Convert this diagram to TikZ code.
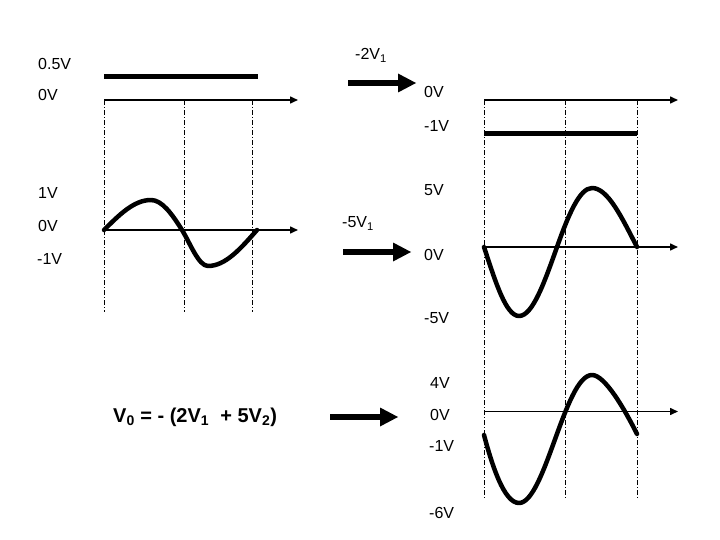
\documentclass[tikz,border=0pt]{standalone}
\usepackage{fontspec}
\setmainfont{Liberation Sans}
\usetikzlibrary{arrows.meta}
\tikzset{
  lbl/.style={anchor=base west, inner sep=0pt, font=\fontsize{16}{19}\selectfont},
  eqn/.style={anchor=base west, inner sep=0pt, font=\fontsize{20}{24}\selectfont\bfseries},
  axis/.style={line width=1.5pt, -{Triangle[length=8pt,width=7pt]}},
  thick wave/.style={line width=4.5pt, line cap=round, line join=round},
  guide/.style={line width=0.8pt, dash pattern=on 5pt off 2pt on 1pt off 2pt},
  pics/bigarrow/.style={code={
    \fill (0,-2.8) -- (50,-2.8) -- (50,-9.5) -- (68,0) -- (50,9.5) -- (50,2.8) -- (0,2.8) -- cycle;}}
}
\begin{document}
\begin{tikzpicture}[x=1pt, y=-1pt]
\path[use as bounding box] (0,0) rectangle (720,540);

% ---------- left top : 0.5 V DC ----------
\foreach \gx in {104,184,252} \draw[guide] (\gx,100) -- (\gx,312);
\draw[axis] (104,100) -- (298,100);
\draw[thick wave, line cap=butt] (104,76.5) -- (258,76.5);
\node[lbl] (l05) at (38,70) {0.5V};
\node[lbl] (l0a) at (38,100.5) {0V};

% ---------- left middle : sine 1 V ----------
\draw[axis] (104,230) -- (298,230);
\draw[thick wave] (104,230) .. controls (119.5,214.6) and (134,200) .. (151,200)
  .. controls (162,200) and (172,214) .. (182,230)
  .. controls (190,243) and (198.6,266) .. (208,266)
  .. controls (225.6,266) and (240.8,248.4) .. (257,230);
\node[lbl] (l1) at (38,198.5) {1V};
\node[lbl] (l0b) at (38,231) {0V};
\node[lbl] (lm1) at (37,264) {-1V};

% ---------- right guides ----------
\foreach \gx in {484,565,637} \draw[guide] (\gx,100) -- (\gx,498);

% ---------- right top : -1 V ----------
\draw[axis] (484,100) -- (678,100);
\draw[thick wave, line cap=butt] (484,133.5) -- (637,133.5);
\pic at (348,83) {bigarrow};
\node[lbl] (g1) at (355,60) {-2V\textsubscript{1}};
\node[lbl] (r0a) at (424,97.5) {0V};
\node[lbl] (rm1) at (424,131.5) {-1V};

% ---------- right middle : -5 sin ----------
\draw[axis] (484,247) -- (678,247);
\draw[thick wave] (484,247) .. controls (495.5,282) and (506,316) .. (519,316)
  .. controls (532.7,316) and (544.5,282) .. (557,247)
  .. controls (568,216) and (579.4,188) .. (592,188)
  .. controls (608,188) and (622,218) .. (637,247);
\pic at (343,252) {bigarrow};
\node[lbl] (g2) at (342,228) {-5V\textsubscript{1}};
\node[lbl] (r5) at (424,195.5) {5V};
\node[lbl] (r0b) at (424,260) {0V};
\node[lbl] (rm5) at (424,323) {-5V};

% ---------- right bottom : sum ----------
\draw[axis] (484,411.5) -- (678,411.5);
\draw[thick wave] (484,435) .. controls (492,465) and (504,503) .. (519,503)
  .. controls (545,503) and (565,375) .. (592,375)
  .. controls (605,375) and (625,410) .. (637,434);
\pic at (330,417) {bigarrow};
\node[eqn] (eq) at (113,422) {V\textsubscript{0} = - (2V\textsubscript{1}\ \ + 5V\textsubscript{2})};
\node[lbl] (r4) at (430,388) {4V};
\node[lbl] (r0c) at (430,420) {0V};
\node[lbl] (rm1b) at (429,451) {-1V};
\node[lbl] (rm6) at (429,518) {-6V};
\end{tikzpicture}
\end{document}
